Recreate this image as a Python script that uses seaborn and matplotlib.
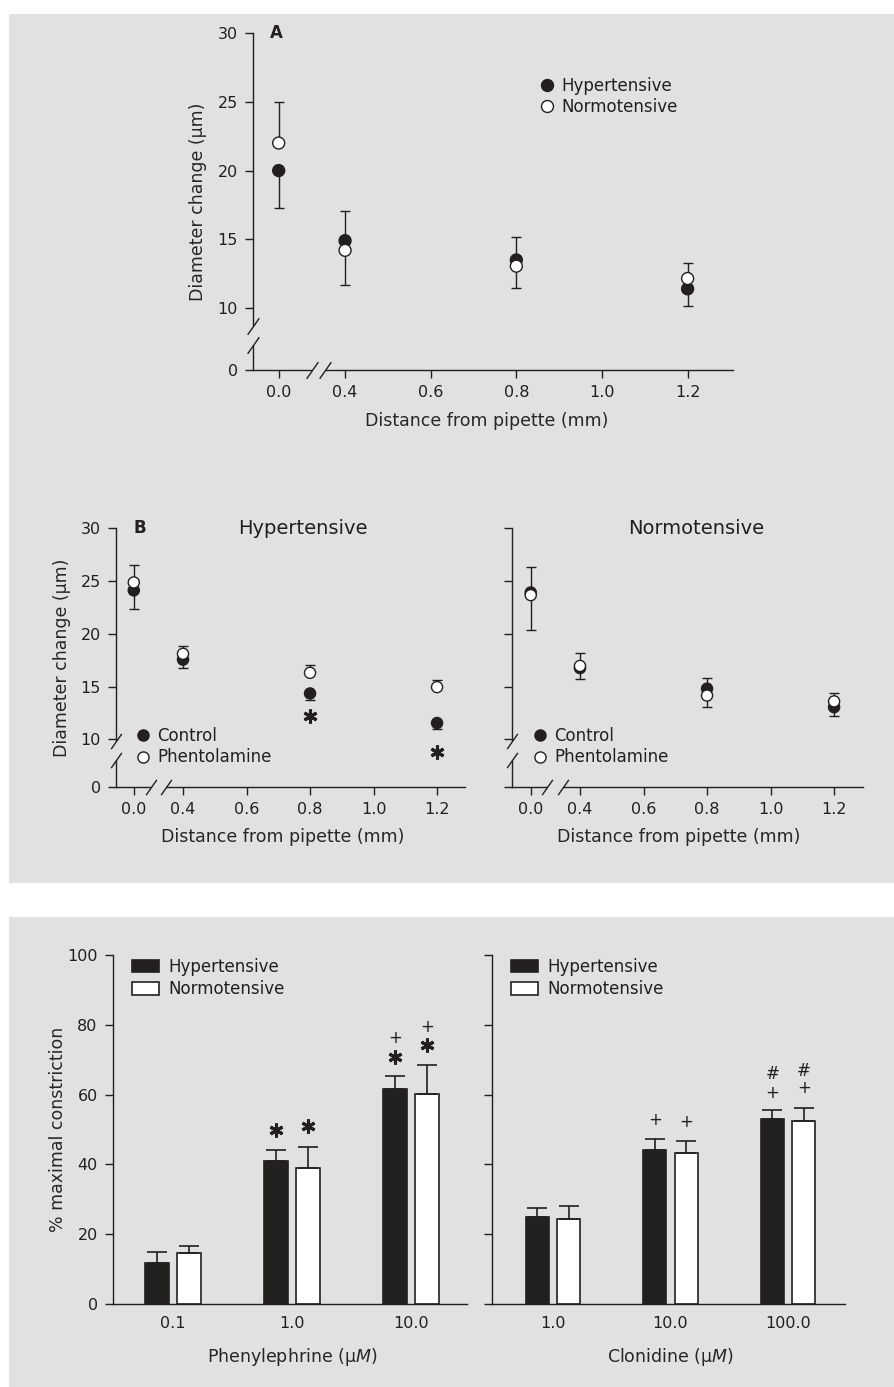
import pandas as pd
import matplotlib
matplotlib.use('Agg')
import matplotlib.pyplot as plt
import seaborn as sns
from matplotlib.lines import Line2D
from matplotlib.patches import Rectangle, Patch

# ---------------- data ----------------
distance = [0.0, 0.4, 0.8, 1.2]
dist_ticks = [0.0, 0.4, 0.6, 0.8, 1.0, 1.2]
diam_ticks = [0, 10, 15, 20, 25, 30]

# A: diameter change (um), one-sided SE bars (lo = down, hi = up)
a_hyp = [20.0, 14.9, 13.5, 11.4]
a_hyp_lo = [2.7, 0, 0, 1.25]
a_hyp_hi = [0, 2.15, 1.7, 0]
a_norm = [22.0, 14.2, 13.05, 12.15]
a_norm_lo = [0, 2.55, 1.6, 0]
a_norm_hi = [3.0, 0, 0, 1.15]

# B: hypertensive, control vs phentolamine
bh_ctrl = [24.1, 17.55, 14.35, 11.55]
bh_ctrl_lo = [1.8, 0.8, 0.6, 0.6]
bh_ctrl_hi = [0, 0, 0, 0]
bh_phen = [24.85, 18.1, 16.3, 14.95]
bh_phen_lo = [0, 0, 0, 0]
bh_phen_hi = [1.65, 0.7, 0.75, 0.7]
bh_star_x = [0.8, 1.2]
bh_star_y = [12.25, 8.85]

# B: normotensive, control vs phentolamine
bn_ctrl = [23.9, 16.75, 14.8, 13.05]
bn_ctrl_lo = [0, 1.0, 0, 0.8]
bn_ctrl_hi = [2.45, 0, 1.0, 0]
bn_phen = [23.65, 16.95, 14.15, 13.6]
bn_phen_lo = [3.3, 0, 1.05, 0]
bn_phen_hi = [0, 1.2, 0, 0.8]

# C: % maximal constriction
groups = ['Hypertensive', 'Normotensive']
phe_conc = ['0.1', '1.0', '10.0']
phe_hyp = [11.7, 41.0, 61.6]
phe_hyp_err = [3.1, 3.1, 3.8]
phe_norm = [14.5, 38.9, 60.2]
phe_norm_err = [2.1, 6.0, 8.4]
phe_mark_cat = [1, 1, 2, 2, 2, 2]
phe_mark_grp = [0, 1, 0, 1, 0, 1]
phe_mark_y = [49.9, 51.0, 70.9, 74.2, 76.1, 79.5]
phe_mark_sym = ['*', '*', '*', '*', '+', '+']

clo_conc = ['1.0', '10.0', '100.0']
clo_hyp = [24.8, 44.1, 53.0]
clo_hyp_err = [2.6, 3.3, 2.7]
clo_norm = [24.45, 43.3, 52.4]
clo_norm_err = [3.65, 3.5, 3.9]
clo_mark_cat = [1, 1, 2, 2, 2, 2]
clo_mark_grp = [0, 1, 0, 1, 0, 1]
clo_mark_y = [52.7, 52.1, 60.6, 61.9, 65.9, 66.9]
clo_mark_sym = ['+', '+', '+', '+', '#', '#']

# ---------------- style ----------------
INK = '#231f20'
BG = '#e1e1e1'
X_ZERO = 0.245   # where 0.0 sits on the broken x axis
Y_ZERO = 5.5     # where 0 sits on the broken y axis
BAR_W = 0.536
BAR_GAP = 0.27
W, H = 895, 1387

sns.set_style('ticks')
plt.rcParams['font.family'] = ['DejaVu Sans']
plt.rcParams['mathtext.fontset'] = 'dejavusans'
plt.rcParams['text.color'] = INK
plt.rcParams['legend.labelcolor'] = INK

fig = plt.figure(figsize=(W / 100, H / 100), dpi=100)
fig.patch.set_facecolor('white')
for top, bottom in [(14, 883), (917, 1387)]:
    fig.add_artist(Rectangle((9 / W, 1 - bottom / H), (W - 9) / W, (bottom - top) / H,
                             transform=fig.transFigure, facecolor=BG, edgecolor='none', zorder=-10))


def add_ax(left, top, right, bottom):
    ax = fig.add_axes([left / W, 1 - bottom / H, (right - left) / W, (bottom - top) / H])
    ax.set_facecolor('none')
    sns.despine(ax=ax)
    for s in ['left', 'bottom']:
        ax.spines[s].set_linewidth(1.0)
        ax.spines[s].set_color(INK)
    ax.tick_params(direction='out', length=6, width=1.0, color=INK, labelsize=11.5,
                   labelcolor=INK)
    ax.tick_params(axis='y', pad=5)
    ax.tick_params(axis='x', pad=5)
    return ax


def xpos(d):
    return [X_ZERO if v == 0 else v for v in d]


def dot_panel(ax, s1, s2, labels, xlim, size):
    x = xpos(distance)
    for vals, lo, hi in (s1, s2):
        ax.errorbar(x, vals, yerr=[lo, hi], fmt='none', ecolor=INK, elinewidth=1.0,
                    capsize=3.8, capthick=1.0, zorder=2)
    df = pd.DataFrame({'x': x * 2, 'y': s1[0] + s2[0],
                       'grp': [labels[0]] * len(x) + [labels[1]] * len(x)})
    sns.scatterplot(data=df, x='x', y='y', hue='grp', palette={labels[0]: INK, labels[1]: 'white'},
                    edgecolor=INK, linewidth=1.0, s=size, legend=False, ax=ax, zorder=3)
    ax.set_xlim(*xlim)
    ax.set_ylim(Y_ZERO, 30)
    ax.set_xticks(xpos(dist_ticks), [f'{v:.1f}' for v in dist_ticks])
    ax.set_yticks([Y_ZERO if v == 0 else v for v in diam_ticks], [str(v) for v in diam_ticks])
    ax.set_xlabel('Distance from pipette (mm)', fontsize=12.5)
    ax.set_ylabel('')


def breaks(ax, xb, yb, ms=11):
    x0, y0 = ax.get_xlim()[0], ax.get_ylim()[0]
    ax.plot(xb, [y0, y0], color=BG, lw=3.5, zorder=5, clip_on=False, solid_capstyle='butt')
    ax.plot([x0, x0], yb, color=BG, lw=3.5, zorder=5, clip_on=False, solid_capstyle='butt')
    slash = [(-0.7, -1.0), (0.7, 1.0)]
    ax.plot(xb + [x0, x0], [y0, y0] + yb, ls='none', marker=slash, ms=ms, mfc='none',
            mec=INK, mew=1.0, clip_on=False, zorder=6)


def dot_legend(ax, labels, left, top, ms):
    h = [Line2D([], [], ls='none', marker='o', ms=ms, mfc=f, mec=INK, mew=1.0) for f in (INK, 'white')]
    ax.legend(h, labels, loc='upper left', bbox_to_anchor=(left / W, 1 - top / H),
              bbox_transform=fig.transFigure, frameon=False, fontsize=12, handlelength=1.0,
              handletextpad=0.35, labelspacing=0.2, borderpad=0, borderaxespad=0)


# ---- A ----
axA = add_ax(253, 33, 733, 370)
dot_panel(axA, (a_hyp, a_hyp_lo, a_hyp_hi), (a_norm, a_norm_lo, a_norm_hi), groups, (0.185, 1.306), 74)
breaks(axA, [0.323, 0.353], [8.73, 7.35], ms=12)
axA.set_ylabel('Diameter change (μm)', fontsize=12.5)
axA.yaxis.set_label_coords(-0.096, 0.5)
axA.xaxis.set_label_coords(0.486, -0.125)
axA.text(0.048, 1.0, 'A', transform=axA.transAxes, fontsize=12, fontweight='bold', ha='center', va='center')
dot_legend(axA, groups, 538.7, 77, 8.6)

# ---- B ----
b_labels = ['Control', 'Phentolamine']
axB1 = add_ax(116, 528, 465, 787)
dot_panel(axB1, (bh_ctrl, bh_ctrl_lo, bh_ctrl_hi), (bh_phen, bh_phen_lo, bh_phen_hi), b_labels, (0.189, 1.288), 64)
axB1.plot(bh_star_x, bh_star_y, ls='none', marker=(6, 2, 0), ms=10, mew=2.2, mec=INK, zorder=4, clip_on=False)
breaks(axB1, [0.298, 0.346], [9.81, 8.02])
axB1.set_ylabel('Diameter change (μm)', fontsize=12.5)
axB1.yaxis.set_label_coords(-0.129, 0.5)
axB1.xaxis.set_label_coords(0.477, -0.158)
axB1.text(0.536, 1.0, 'Hypertensive', transform=axB1.transAxes, fontsize=14, ha='center', va='center')
axB1.text(0.067, 1.0, 'B', transform=axB1.transAxes, fontsize=12, fontweight='bold', ha='center', va='center')
dot_legend(axB1, b_labels, 134.7, 727, 8.0)

axB2 = add_ax(512, 528, 863, 787)
dot_panel(axB2, (bn_ctrl, bn_ctrl_lo, bn_ctrl_hi), (bn_phen, bn_phen_lo, bn_phen_hi), b_labels, (0.186, 1.291), 64)
breaks(axB2, [0.296, 0.346], [9.81, 8.02])
axB2.set_yticklabels([])
axB2.xaxis.set_label_coords(0.476, -0.158)
axB2.text(0.524, 1.0, 'Normotensive', transform=axB2.transAxes, fontsize=14, ha='center', va='center')
dot_legend(axB2, b_labels, 531.7, 727, 8.0)


# ---- C ----
def bar_panel(ax, conc, hyp, hyp_err, norm, norm_err, xlim):
    df = pd.DataFrame({'conc': conc * 2, 'val': hyp + norm,
                       'grp': [groups[0]] * len(conc) + [groups[1]] * len(conc)})
    sns.barplot(data=df, x='conc', y='val', hue='grp', order=conc, hue_order=groups,
                palette={groups[0]: INK, groups[1]: 'white'}, width=BAR_W, gap=BAR_GAP,
                edgecolor=INK, linewidth=1.2, errorbar=None, legend=False, ax=ax)
    for k, (vals, err) in enumerate([(hyp, hyp_err), (norm, norm_err)]):
        xs = [i + (k - 0.5) * BAR_W / 2 for i in range(len(conc))]
        ax.errorbar(xs, vals, yerr=[[0] * len(vals), err], fmt='none', ecolor=INK,
                    elinewidth=1.2, capsize=7, capthick=1.2, zorder=3)
    ax.set_xlim(*xlim)
    ax.set_ylim(0, 100)
    ax.set_yticks([0, 20, 40, 60, 80, 100])
    ax.tick_params(axis='x', length=0, pad=9)
    ax.set_ylabel('')
    h = [Patch(facecolor=INK, edgecolor=INK, lw=1.2), Patch(facecolor='white', edgecolor=INK, lw=1.2)]
    return h


def marks(ax, cat, grp, ys, syms):
    for c, g, y, s in zip(cat, grp, ys, syms):
        x = c + (g - 0.5) * BAR_W / 2
        if s == '*':
            ax.plot([x], [y], ls='none', marker=(6, 2, 0), ms=10, mew=2.2, mec=INK, zorder=4, clip_on=False)
        else:
            ax.text(x, y, s, ha='center', va='center', fontsize=12, color=INK)


def bar_legend(ax, h, left, top):
    ax.legend(h, groups, loc='upper left', bbox_to_anchor=(left / W, 1 - top / H),
              bbox_transform=fig.transFigure, frameon=False, fontsize=12, handlelength=1.62,
              handleheight=0.78, handletextpad=0.55, labelspacing=0.25, borderpad=0, borderaxespad=0)


axC1 = add_ax(113, 955, 467, 1304)
h = bar_panel(axC1, phe_conc, phe_hyp, phe_hyp_err, phe_norm, phe_norm_err, (-0.504, 2.47))
marks(axC1, phe_mark_cat, phe_mark_grp, phe_mark_y, phe_mark_sym)
axC1.set_ylabel('% maximal constriction', fontsize=12.5)
axC1.yaxis.set_label_coords(-0.130, 0.5)
axC1.set_xlabel('Phenylephrine (μ$\\mathit{M}$)', fontsize=12.5)
axC1.xaxis.set_label_coords(0.505, -0.120)
bar_legend(axC1, h, 132, 958)

axC2 = add_ax(492, 955, 845, 1304)
h = bar_panel(axC2, clo_conc, clo_hyp, clo_hyp_err, clo_norm, clo_norm_err, (-0.52, 2.485))
marks(axC2, clo_mark_cat, clo_mark_grp, clo_mark_y, clo_mark_sym)
axC2.set_yticklabels([])
axC2.set_xlabel('Clonidine (μ$\\mathit{M}$)', fontsize=12.5)
axC2.xaxis.set_label_coords(0.504, -0.120)
bar_legend(axC2, h, 511, 958)

fig.savefig('out.png', dpi=100)
